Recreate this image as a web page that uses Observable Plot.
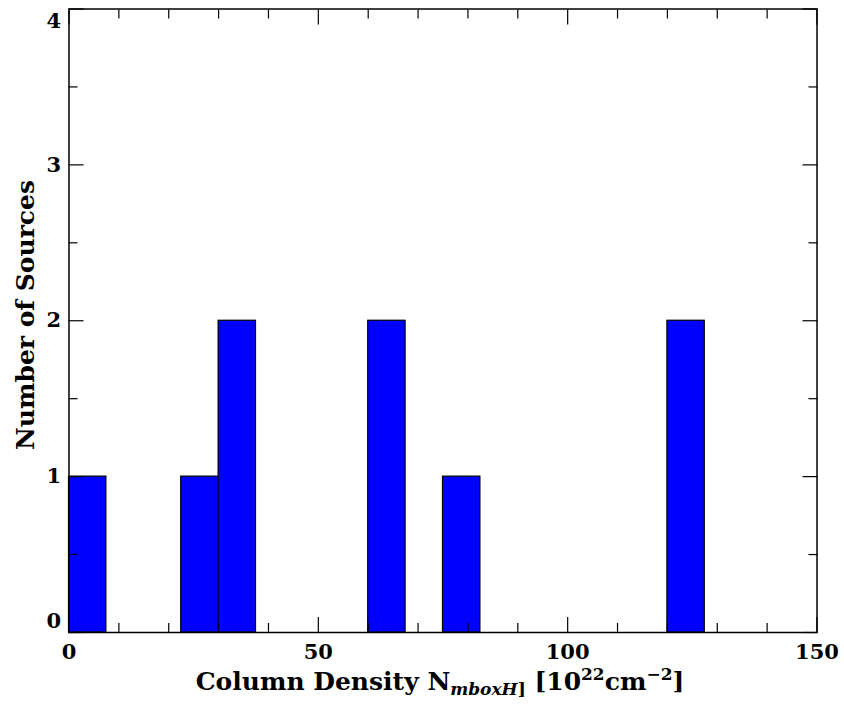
<!DOCTYPE html>
<html><head><meta charset="utf-8">
<script src="https://cdn.jsdelivr.net/npm/d3@7"></script>
<script src="https://cdn.jsdelivr.net/npm/@observablehq/plot@0.6"></script>
<style>body{margin:0;background:#fff}</style>
</head><body><div id="chart"></div>
<script>
// Histogram data (bin edges and counts)
const binStart = [0, 22.5, 30, 60, 75, 120];
const binEnd = [7.5, 30, 37.5, 67.5, 82.5, 127.5];
const counts = [1, 1, 2, 2, 1, 2];

// Tick values
const xMajorTicks = [0, 50, 100, 150];
const xMinorTicks = [10, 20, 30, 40, 60, 70, 80, 90, 110, 120, 130, 140];
const yMajorTicks = [0, 1, 2, 3, 4];
const yMinorTicks = [0.5, 1.5, 2.5, 3.5];
const yMiddleLabels = [1, 2, 3];
const yTopLabel = [4];
const yBottomLabel = [0];

const yTitle = "Number of Sources";

const bars = binStart.map((s, i) => ({x1: s, x2: binEnd[i], y: counts[i]}));
const blank = () => "";
const intFmt = d3.format("d");
const FONT = "DejaVu Serif";

const plot = Plot.plot({
  width: 844,
  height: 707,
  marginLeft: 68.5,
  marginRight: 27.5,
  marginTop: 8.5,
  marginBottom: 75,
  x: {domain: [0, 150]},
  y: {domain: [0, 4]},
  style: {fontFamily: FONT, fontWeight: "bold", fontSize: "21px", color: "black", background: "white"},
  marks: [
    Plot.rectY(bars, {x1: "x1", x2: "x2", y: "y", fill: "#0000ff", stroke: "black", strokeWidth: 1.2}),
    Plot.frame({stroke: "black", strokeWidth: 1.5}),
    // inward ticks, bottom & top
    Plot.axisX(xMajorTicks, {anchor: "bottom", tickSize: -15, tickFormat: blank, label: null, strokeWidth: 1.2}),
    Plot.axisX(xMinorTicks, {anchor: "bottom", tickSize: -9, tickFormat: blank, label: null, strokeWidth: 1.2}),
    Plot.axisX(xMajorTicks, {anchor: "top", tickSize: -15, tickFormat: blank, label: null, strokeWidth: 1.2}),
    Plot.axisX(xMinorTicks, {anchor: "top", tickSize: -9, tickFormat: blank, label: null, strokeWidth: 1.2}),
    // inward ticks, left & right
    Plot.axisY(yMajorTicks, {anchor: "left", tickSize: -15, tickFormat: blank, label: null, strokeWidth: 1.2}),
    Plot.axisY(yMinorTicks, {anchor: "left", tickSize: -9, tickFormat: blank, label: null, strokeWidth: 1.2}),
    Plot.axisY(yMajorTicks, {anchor: "right", tickSize: -15, tickFormat: blank, label: null, strokeWidth: 1.2}),
    Plot.axisY(yMinorTicks, {anchor: "right", tickSize: -9, tickFormat: blank, label: null, strokeWidth: 1.2}),
    // tick labels
    Plot.axisX(xMajorTicks, {anchor: "bottom", tickSize: 0, tickPadding: 12, tickFormat: intFmt, label: null, fontSize: 21, fontWeight: "bold"}),
    Plot.axisY(yMiddleLabels, {anchor: "left", tickSize: 0, tickPadding: 8, tickFormat: intFmt, label: null, fontSize: 21, fontWeight: "bold"}),
    Plot.axisY(yTopLabel, {anchor: "left", tickSize: 0, tickPadding: 8, dy: 12.5, tickFormat: intFmt, label: null, fontSize: 21, fontWeight: "bold"}),
    Plot.axisY(yBottomLabel, {anchor: "left", tickSize: 0, tickPadding: 8, dy: -11, tickFormat: intFmt, label: null, fontSize: 21, fontWeight: "bold"})
  ]
});

document.getElementById("chart").appendChild(plot);

const svg = d3.select(plot);
// y title
svg.append("text")
  .attr("transform", "translate(34,315) rotate(-90)")
  .attr("text-anchor", "middle")
  .attr("font-family", FONT).attr("font-weight", "bold").attr("font-size", 25)
  .attr("fill", "black")
  .text(yTitle);

// x title with sub/superscripts
const xt = svg.append("text")
  .attr("x", 440).attr("y", 690)
  .attr("text-anchor", "middle")
  .attr("font-family", FONT).attr("font-weight", "bold").attr("font-size", 25)
  .attr("fill", "black");
xt.append("tspan").text("Column Density N");
xt.append("tspan").attr("dy", 5).attr("font-size", 17).attr("font-style", "italic").text("mboxH");
xt.append("tspan").attr("font-size", 17).text("]");
xt.append("tspan").attr("dy", -5).text(" [10");
xt.append("tspan").attr("dy", -10).attr("font-size", 17).text("22");
xt.append("tspan").attr("dy", 10).text("cm");
xt.append("tspan").attr("dy", -10).attr("font-size", 17).text("\u22122");
xt.append("tspan").attr("dy", 10).text("]");
</script>
</body></html>
